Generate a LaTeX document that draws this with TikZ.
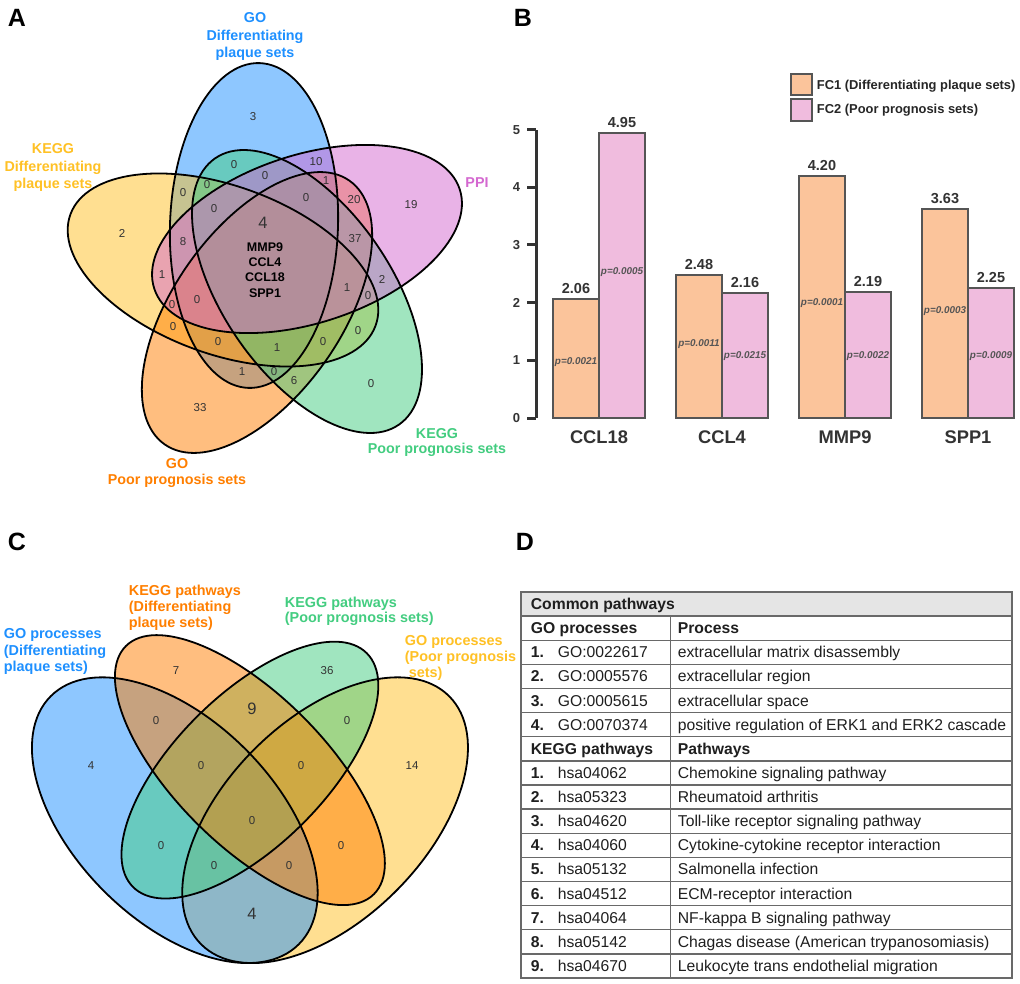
\documentclass[tikz,border=0pt]{standalone}
\usepackage{fontspec}
\setmainfont{Liberation Sans}
\usetikzlibrary{positioning}

\definecolor{vblue}{RGB}{30,144,255}
\definecolor{vgold}{RGB}{255,193,37}
\definecolor{vorange}{RGB}{255,127,0}
\definecolor{vgreen}{RGB}{67,205,128}
\definecolor{vorchid}{RGB}{212,104,208}
\definecolor{fcone}{RGB}{251,196,155}
\definecolor{fctwo}{RGB}{240,188,222}
\definecolor{ink}{RGB}{51,51,51}
\definecolor{edgegray}{RGB}{85,85,85}
\definecolor{rulegray}{RGB}{105,105,105}
\definecolor{headgray}{RGB}{229,229,229}

\tikzset{every picture/.style={line width=1.8pt}}
\tikzset{
  panel/.style={font=\bfseries\fontsize{25}{25}\selectfont, anchor=base west, inner sep=0pt},
  setlabel/.style={font=\bfseries\fontsize{14.3}{17.5}\selectfont, inner sep=0pt, text=#1},
  num/.style={font=\fontsize{11.5}{13}\selectfont, inner sep=0pt, text=ink},
  bignum/.style={font=\fontsize{16.5}{18}\selectfont, inner sep=0pt, text=ink},
  genes/.style={font=\bfseries\fontsize{12.5}{15.3}\selectfont, inner sep=0pt, align=center},
  bar/.style={draw=edgegray, line width=2pt, fill=#1},
  axis/.style={draw=ink, line width=3pt},
  tick/.style={font=\bfseries\fontsize{13}{14}\selectfont, text=ink, inner sep=0pt, anchor=east},
  barval/.style={font=\bfseries\fontsize{14.5}{16}\selectfont, text=ink, anchor=base, inner sep=0pt},
  pval/.style={font=\bfseries\itshape\fontsize{9.9}{11}\selectfont, text=edgegray, inner sep=0pt},
  gene/.style={font=\bfseries\fontsize{18.3}{20}\selectfont, text=ink, inner sep=0pt},
  legtext/.style={font=\bfseries\fontsize{12.9}{14}\selectfont, text=black!85, anchor=west, inner sep=0pt},
  cell/.style={font=\fontsize{15.7}{18}\selectfont, anchor=base west, inner sep=0pt, text=black!88},
  boldcell/.style={cell, font=\bfseries\fontsize{15.7}{18}\selectfont},
  rule/.style={draw=rulegray, line width=1.3pt},
}

% five ellipses of panel A, bottom layer first: centre x / centre y / long radius / angle / colour
\def\vennA{254/225.5/162.5/88/vblue, 223/270/162.4/160/vgold, 257/312.5/161/55/vorange,
  307/291.5/161.8/-55.4/vgreen, 307/239/160.6/18/vorchid}
% four ellipses of panel C, bottom layer first: centre x / centre y / radii / angle / colour
\def\vennC{325.1/820.2/175.4/100.2/45/vgold, 174.8/820.2/175.4/100.2/135/vblue,
  249.9/770.1/165.3/75.2/45/vgreen, 249.9/770.1/175.4/75.2/135/vorange}
\def\rowh{24.125}

\begin{document}
\begin{tikzpicture}[x=1pt, y=-1pt]
  \useasboundingbox (0,0) rectangle (1020,984);
  \fill[white] (0,0) rectangle (1020,984);

  % panel letters
  \node[panel] (pA) at (7,27) {A};
  \node[panel] (pB) at (513,27) {B};
  \node[panel] (pC) at (7,550) {C};
  \node[panel] (pD) at (515,550) {D};

  %%% A: five-set venn
  \foreach \cx/\cy/\ra/\ang/\col in \vennA
    \fill[\col, fill opacity=0.5, rotate around={\ang:(\cx,\cy)}] (\cx,\cy) ellipse [x radius=\ra, y radius=84];
  \foreach \cx/\cy/\ra/\ang/\col in \vennA
    \draw[rotate around={\ang:(\cx,\cy)}] (\cx,\cy) ellipse [x radius=\ra, y radius=84];

  \node[setlabel=vblue, anchor=north, align=center] (goDiff) at (255,12) {GO\\Differentiating\\plaque sets};
  \node[setlabel=vgold, anchor=north, align=center] (keggDiff) at (53,143) {KEGG\\Differentiating\\plaque sets};
  \node[setlabel=vorchid] (ppi) at (477,183) {PPI};
  \node[setlabel=vgreen, anchor=north, align=center, font=\bfseries\fontsize{14.3}{15}\selectfont] (keggPoor) at (437,428) {KEGG\\Poor prognosis sets};
  \node[setlabel=vorange, anchor=north, align=center, font=\bfseries\fontsize{14.3}{16}\selectfont] (goPoor) at (177,458) {GO\\Poor prognosis sets};

  \foreach \x/\y/\v [count=\n] in {253/117/3, 234/165/0, 316/162/10, 265/176/0, 326/181/1,
      183/193/0, 207/185/0, 354/200/20, 411/205/19, 306/198/0, 214/209/0, 122/233/2,
      183/242/8, 355/239/37, 162/275/1, 382/279/2, 347/288/1, 368/296/0, 172/305/0,
      197/300/0, 173/327/0, 358/331/0, 218/342/0, 277/348/1, 323/342/0, 242/372/1,
      274/372/0, 294/381/6, 371/384/0, 200/408/33}
    \node[num] (na\n) at (\x,\y) {\v};
  \node[bignum] (allA) at (263,223) {4};
  \node[genes] (coreGenes) at (265,270) {MMP9\\CCL4\\CCL18\\SPP1};

  %%% B: fold change bars
  \begin{scope}[shift={(536,418)}, y=57.67pt]
    \draw[axis] (0,0) -- (0,5);
    \foreach \t in {0,...,5} {
      \draw[axis] (-9,\t) -- (0,\t);
      \node[tick] (tk\t) at (-15,\t) {\t};
    }
    \foreach \gene/\fa/\fb/\pa/\pb/\ya/\yb [count=\i from 0] in {
        CCL18/2.06/4.95/0.0021/0.0005/0.97/2.53,
        CCL4/2.48/2.16/0.0011/0.0215/1.28/1.075,
        MMP9/4.20/2.19/0.0001/0.0022/1.99/1.075,
        SPP1/3.63/2.25/0.0003/0.0009/1.855/1.075} {
      \pgfmathsetmacro\xa{17+123*\i}
      \draw[bar=fcone] (\xa,0) rectangle ++(46,\fa);
      \draw[bar=fctwo] (\xa+46,0) rectangle ++(46,\fb);
      \node[barval] (va\i) at (\xa+23,\fa) [yshift=5.5pt] {\fa};
      \node[barval] (vb\i) at (\xa+69,\fb) [yshift=5.5pt] {\fb};
      \node[pval] (pa\i) at (\xa+23,\ya) {p=\pa};
      \node[pval] (pb\i) at (\xa+69,\yb) {p=\pb};
      \node[gene] (g\i) at (\xa+46,-0.33) {\gene};
    }
  \end{scope}
  \draw[bar=fcone] (791,74) rectangle (812,95);
  \draw[bar=fctwo] (791,99) rectangle (812,121);
  \node[legtext] (leg1) at (816,86) {FC1 (Differentiating plaque sets)};
  \node[legtext] (leg2) at (816,110) {FC2 (Poor prognosis sets)};

  %%% C: four-set venn
  \foreach \cx/\cy/\ra/\rb/\ang/\col in \vennC
    \fill[\col, fill opacity=0.5, rotate around={\ang:(\cx,\cy)}] (\cx,\cy) ellipse [x radius=\ra, y radius=\rb];
  \foreach \cx/\cy/\ra/\rb/\ang/\col in \vennC
    \draw[rotate around={\ang:(\cx,\cy)}] (\cx,\cy) ellipse [x radius=\ra, y radius=\rb];

  \node[setlabel=vblue, anchor=north west, align=left, font=\bfseries\fontsize{14.4}{16.5}\selectfont] (goProc) at (3,628) {GO processes\\(Differentiating\\plaque sets)};
  \node[setlabel=vorange, anchor=north west, align=left, font=\bfseries\fontsize{14.4}{16}\selectfont] (keggPath) at (128,584) {KEGG pathways\\(Differentiating\\plaque sets)};
  \node[setlabel=vgreen, anchor=north west, align=left, font=\bfseries\fontsize{14.4}{15}\selectfont] (keggPathPoor) at (284,596) {KEGG pathways\\(Poor prognosis sets)};
  \node[setlabel=vgold, anchor=north west, align=left, font=\bfseries\fontsize{14.4}{16}\selectfont] (goProcPoor) at (404,635) {GO processes\\(Poor prognosis\\\hspace*{4pt}sets)};

  \foreach \x/\y/\v [count=\n] in {176/671/7, 327/671/36, 156/721/0, 347/721/0, 91/766/4,
      201/766/0, 301/766/0, 412/766/14, 252/821/0, 161/846/0, 341/846/0, 214/866/0, 289/866/0}
    \node[num] (nc\n) at (\x,\y) {\v};
  \node[bignum] (keggBoth) at (252,709) {9};
  \node[bignum] (goBoth) at (252,914) {4};

  %%% D: table of common pathways
  \fill[headgray] (521,592) rectangle (1012,592+\rowh);
  \foreach \k in {1,...,15}
    \draw[rule] (521,{592+\rowh*\k}) -- (1012,{592+\rowh*\k});
  \draw[rule] (670.7,592+\rowh) -- (670.7,978);
  \draw[rule, line width=1.6pt] (521,592) rectangle (1012,978);

  \node[boldcell] (hdCommon) at (530,609.6) {Common pathways};
  \node[boldcell] (hdGo) at (530,{609.6+\rowh}) {GO processes};
  \node[boldcell] (hdProc) at (677,{609.6+\rowh}) {Process};
  \foreach \code/\desc [count=\i] in {GO:0022617/extracellular matrix disassembly,
      GO:0005576/extracellular region, GO:0005615/extracellular space,
      GO:0070374/positive regulation of ERK1 and ERK2 cascade} {
    \node[boldcell] (gn\i) at (530,{609.6+\rowh*(1+\i)}) {\i.};
    \node[cell] (gc\i) at (557,{609.6+\rowh*(1+\i)}) {\code};
    \node[cell] (gd\i) at (677,{609.6+\rowh*(1+\i)}) {\desc};
  }
  \node[boldcell] (hdKegg) at (530,{609.6+\rowh*6}) {KEGG pathways};
  \node[boldcell] (hdPath) at (677,{609.6+\rowh*6}) {Pathways};
  \foreach \code/\desc [count=\i] in {hsa04062/Chemokine signaling pathway,
      hsa05323/Rheumatoid arthritis, hsa04620/Toll-like receptor signaling pathway,
      hsa04060/Cytokine-cytokine receptor interaction, hsa05132/Salmonella infection,
      hsa04512/ECM-receptor interaction, hsa04064/NF-kappa B signaling pathway,
      hsa05142/Chagas disease (American trypanosomiasis),
      hsa04670/Leukocyte trans endothelial migration} {
    \node[boldcell] (kn\i) at (530,{609.6+\rowh*(6+\i)}) {\i.};
    \node[cell] (kc\i) at (557,{609.6+\rowh*(6+\i)}) {\code};
    \node[cell] (kd\i) at (677,{609.6+\rowh*(6+\i)}) {\desc};
  }
\end{tikzpicture}
\end{document}
